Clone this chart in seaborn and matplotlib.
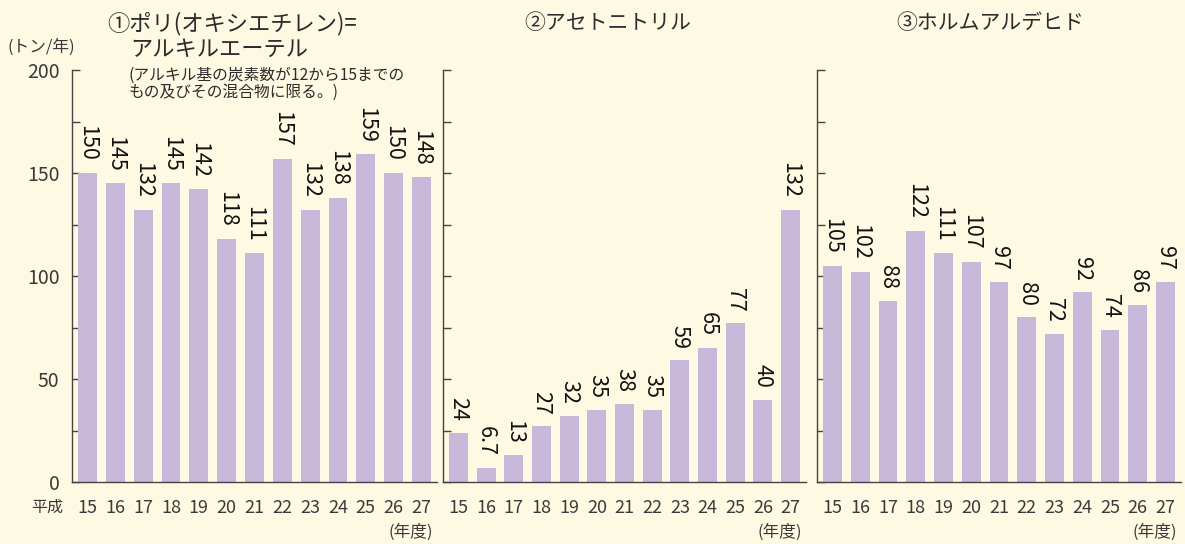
import matplotlib
matplotlib.use("Agg")
import matplotlib.pyplot as plt
import seaborn as sns
import pandas as pd

# 年度（平成）
years = ["15", "16", "17", "18", "19", "20", "21", "22", "23", "24", "25", "26", "27"]

# 排出量（トン/年）
poly_ether = [150, 145, 132, 145, 142, 118, 111, 157, 132, 138, 159, 150, 148]
acetonitrile = [24, 6.7, 13, 27, 32, 35, 38, 35, 59, 65, 77, 40, 132]
formaldehyde = [105, 102, 88, 122, 111, 107, 97, 80, 72, 92, 74, 86, 97]

title1_lines = ["①ポリ(オキシエチレン)=", "アルキルエーテル"]
title2 = "②アセトニトリル"
title3 = "③ホルムアルデヒド"
note_lines = ["(アルキル基の炭素数が12から15までの", "もの及びその混合物に限る。)"]

BG = "#FEF9E2"
BAR = "#C7B8DA"
TXT = "#2b2b2b"
GRAY = "#3a3a3a"

sns.set_theme(style="white")
plt.rcParams["font.family"] = ["Noto Sans CJK JP", "DejaVu Sans"]

fig = plt.figure(figsize=(11.85, 5.44), dpi=100, facecolor=BG)
W, H = 1185, 544


def fx(px):
    return px / W


def fy(py):
    return 1 - py / H


# panel extents in pixels: (left, right)
extents = [(72, 437), (443, 806), (817, 1181)]
top_px, bottom_px = 70, 482
series = [poly_ether, acetonitrile, formaldehyde]

for i, ((l, r), vals) in enumerate(zip(extents, series)):
    ax = fig.add_axes([fx(l), fy(bottom_px), (r - l) / W, (bottom_px - top_px) / H])
    ax.set_facecolor(BG)
    df = pd.DataFrame({"year": years, "value": vals})
    sns.barplot(data=df, x="year", y="value", color=BAR, saturation=1,
                width=0.68, ax=ax, edgecolor="none")
    ax.set_xlim(-0.56, 12.56)
    ax.set_ylim(0, 200)
    for s in ["top", "right"]:
        ax.spines[s].set_visible(False)
    for s in ["left", "bottom"]:
        ax.spines[s].set_color("#444444")
        ax.spines[s].set_linewidth(1.0)
    ax.set_xlabel("")
    ax.set_ylabel("")
    ticks = list(range(0, 201, 25))
    ax.set_yticks(ticks)
    if i == 0:
        ax.set_yticklabels([str(v) if v % 50 == 0 else "" for v in ticks])
    else:
        ax.set_yticklabels([])
    ax.tick_params(axis="y", direction="in", length=6, width=1, color="#444444",
                   labelsize=14, labelcolor=GRAY, pad=9, left=True)
    ax.tick_params(axis="x", length=0, labelsize=13, labelcolor=GRAY, pad=12)
    ax.bar_label(ax.containers[0], labels=[f"{v:g}" for v in vals],
                 rotation=270, padding=8.5, fontsize=15.5, color="#111111")

# panel titles
fig.text(fx(107), fy(24), title1_lines[0], fontsize=16, color=TXT, ha="left", va="center")
fig.text(fx(130), fy(49), title1_lines[1], fontsize=16, color=TXT, ha="left", va="center")
fig.text(fx(129), fy(75), note_lines[0], fontsize=11.3, color=TXT, ha="left", va="center")
fig.text(fx(129), fy(92), note_lines[1], fontsize=11.3, color=TXT, ha="left", va="center")
fig.text(fx(608), fy(23), title2, fontsize=15, color=TXT, ha="center", va="center")
fig.text(fx(990), fy(23), title3, fontsize=15, color=TXT, ha="center", va="center")

# unit and era labels
fig.text(fx(41), fy(47), "(トン/年)", fontsize=12, color=GRAY, ha="center", va="center")
fig.text(fx(47), fy(507), "平成", fontsize=11.5, color=GRAY, ha="center", va="center")
for l, r in extents:
    fig.text(fx(r - 4), fy(532), "(年度)", fontsize=12, color=GRAY, ha="right", va="center")

fig.savefig("out.png", dpi=100, facecolor=BG)
